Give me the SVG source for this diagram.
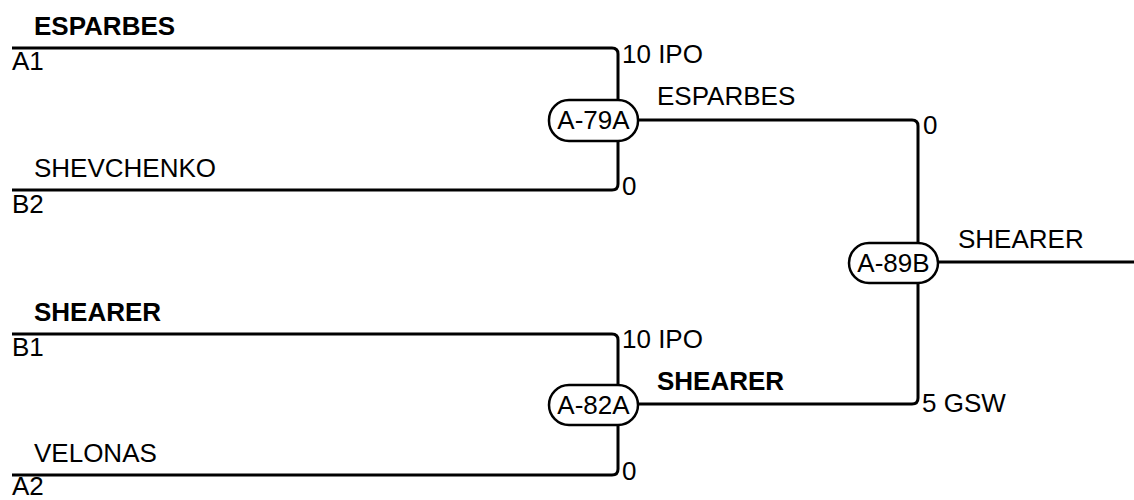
<svg xmlns="http://www.w3.org/2000/svg" width="1134" height="500" viewBox="0 0 1134 500">
<style>
text{font-family:"Liberation Sans",Arial,sans-serif;font-size:26px;fill:#000}
.b{font-weight:bold}
.n{text-anchor:middle}
.c{fill:none;stroke:#000;stroke-width:3}
.node rect{fill:#fff;stroke:#000;stroke-width:2.5}
</style>
<rect width="1134" height="500" fill="#fff"/>
<g id="connectors">
<path class="c" d="M12,48 H612 Q618,48 618,54 V101"/>
<path class="c" d="M12,190 H612 Q618,190 618,184 V140"/>
<path class="c" d="M638,120 H912 Q918,120 918,126 V244"/>
<path class="c" d="M12,334 H612 Q618,334 618,340 V386"/>
<path class="c" d="M12,475 H612 Q618,475 618,469 V424"/>
<path class="c" d="M638,404 H912 Q918,404 918,398 V282"/>
<path class="c" d="M938,262 H1134"/>
</g>
<g id="labels">
<text class="b" x="34" y="35">ESPARBES</text>
<text x="12" y="70">A1</text>
<text x="34" y="177">SHEVCHENKO</text>
<text x="12" y="213">B2</text>
<text class="b" x="34" y="321">SHEARER</text>
<text x="12" y="356">B1</text>
<text x="34" y="462">VELONAS</text>
<text x="12" y="495">A2</text>
<text x="622" y="63">10 IPO</text>
<text x="622" y="195">0</text>
<text x="657" y="105">ESPARBES</text>
<text x="622" y="348">10 IPO</text>
<text x="622" y="480">0</text>
<text class="b" x="657" y="390">SHEARER</text>
<text x="923" y="134">0</text>
<text x="922" y="412">5 GSW</text>
<text x="958" y="248">SHEARER</text>
</g>
<g id="A-79A" class="node"><rect x="549" y="100" width="89" height="41" rx="20"/><text class="n" x="593.5" y="129">A-79A</text></g>
<g id="A-82A" class="node"><rect x="549" y="385" width="89" height="40" rx="20"/><text class="n" x="593.5" y="414">A-82A</text></g>
<g id="A-89B" class="node"><rect x="849" y="243" width="89" height="40" rx="20"/><text class="n" x="893.5" y="272">A-89B</text></g>
</svg>
